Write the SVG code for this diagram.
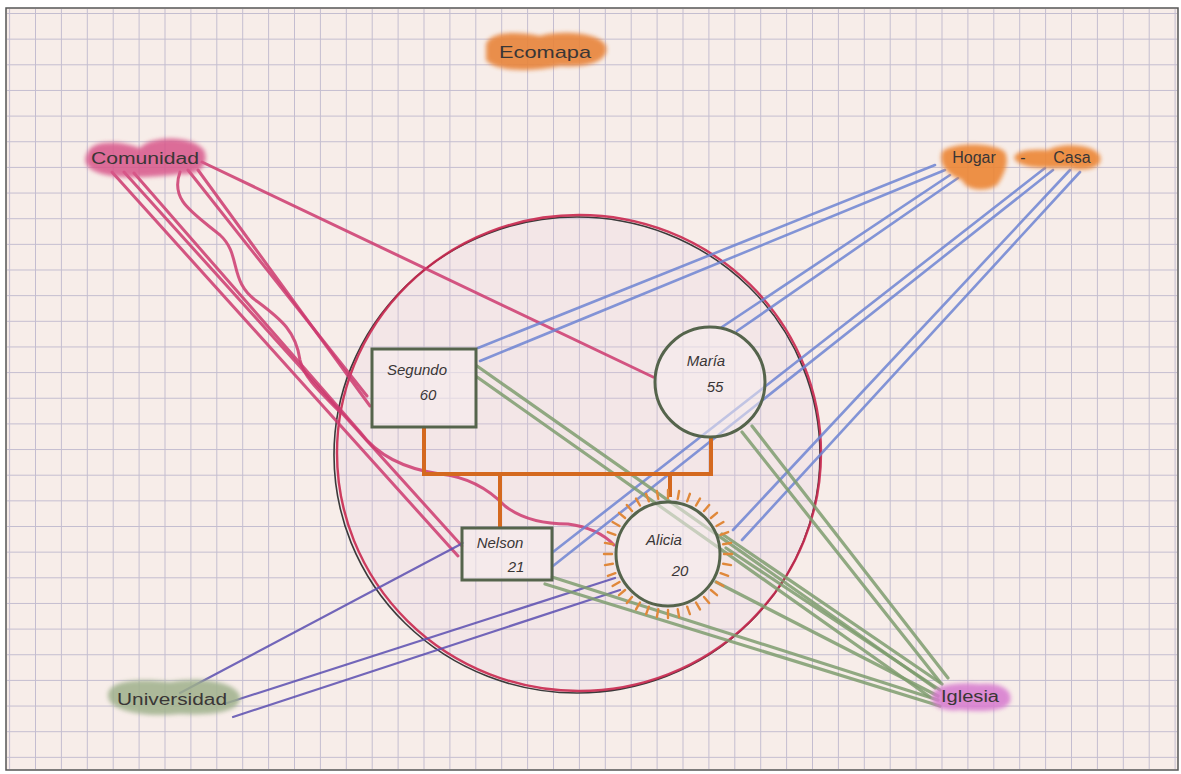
<svg xmlns="http://www.w3.org/2000/svg" width="1181" height="774" viewBox="0 0 1181 774">
  <defs>
    <pattern id="grid" patternUnits="userSpaceOnUse" x="35" y="13" width="25.9" height="25.65">
      <path d="M0.5 0V25.65M0 0.5H25.9" fill="none" stroke="#bbb5cc" stroke-width="1" stroke-opacity="0.85"/>
    </pattern>
    <filter id="smudge" x="-20%" y="-40%" width="140%" height="180%">
      <feGaussianBlur stdDeviation="2.2"/>
    </filter>
    <line id="tick" x1="0" y1="-56" x2="0" y2="-64"/>
  </defs>
  <style>
    .lbl { font-family: "Liberation Sans", "DejaVu Sans", sans-serif; fill: #3a3636; }
    .hand { font-style: italic; }
    .pk { fill: none; stroke: #cc3a6e; stroke-width: 3; stroke-opacity: 0.85; stroke-linecap: round; }
    .bl { fill: none; stroke: #6d84d2; stroke-width: 2.6; stroke-opacity: 0.85; stroke-linecap: round; }
    .pu { fill: none; stroke: #5b4db0; stroke-width: 2.2; stroke-opacity: 0.85; stroke-linecap: round; }
    .gr { fill: none; stroke: #7e9c6e; stroke-width: 3.2; stroke-opacity: 0.85; stroke-linecap: round; }
    .fam { fill: none; stroke: #d4691f; stroke-width: 4; stroke-linejoin: miter; }
    .person { fill: #f6ecee; fill-opacity: 0.55; stroke: #55644c; stroke-width: 3; }
    .ticks { stroke: #e0883a; stroke-width: 2.4; stroke-linecap: round; }
  </style>

  <!-- sheet of squared paper -->
  <rect x="0" y="0" width="1181" height="774" fill="#ffffff"/>
  <rect x="6" y="8" width="1172" height="762" fill="#f7ede9" stroke="#555" stroke-width="1.5"/>
  <rect x="7" y="9" width="1170" height="760" fill="url(#grid)"/>

  <!-- household boundary -->
  <g id="household">
    <ellipse cx="577" cy="455" rx="243" ry="238" fill="#e6c8dc" fill-opacity="0.18" stroke="#3a3a3a" stroke-width="1.6"/>
    <ellipse cx="579" cy="453" rx="242" ry="238" fill="none" stroke="#c9284f" stroke-width="2.4" stroke-opacity="0.9"/>
  </g>

  <!-- connectors -->
  <g id="connectors">
    <!-- Comunidad -->
    <path class="pk" d="M202 162 L653 377"/>
    <path class="pk" d="M112 172 L458 556"/>
    <path class="pk" d="M124 172 L462 546"/>
    <path class="pk" d="M134 173 L360 432 Q385 466 440 474 Q478 478 505 506 Q528 524 568 524 Q598 528 614 545"/>
    <path class="pk" d="M188 170 L367 396"/>
    <path class="pk" d="M198 170 L370 406"/>
    <path class="pk" stroke-width="2.4" d="M180 172 C170 200 192 212 220 235 C242 255 228 282 258 302 C282 320 296 332 300 360 C304 378 320 392 340 412"/>

    <!-- Hogar - Casa -->
    <path class="bl" d="M935 165 L478 348"/>
    <path class="bl" d="M945 170 L480 361"/>
    <path class="bl" d="M950 175 L722 327"/>
    <path class="bl" d="M958 178 L737 331"/>
    <path class="bl" d="M1045 168 L553 552"/>
    <path class="bl" d="M1053 170 L553 566"/>
    <path class="bl" d="M1070 170 L733 530"/>
    <path class="bl" d="M1080 172 L742 540"/>

    <!-- Universidad -->
    <path class="pu" d="M180 693 L463 543"/>
    <path class="pu" d="M227 703 L615 578"/>
    <path class="pu" d="M233 717 L620 590"/>

    <!-- Iglesia -->
    <path class="gr" d="M477 366 L935 688"/>
    <path class="gr" d="M477 377 L930 697"/>
    <path class="gr" d="M742 432 L940 682"/>
    <path class="gr" d="M752 426 L948 678"/>
    <path class="gr" d="M722 534 L942 684"/>
    <path class="gr" d="M726 548 L940 690"/>
    <path class="gr" d="M716 582 L938 696"/>
    <path class="gr" d="M552 577 L938 700"/>
    <path class="gr" d="M545 584 L940 706"/>

    <!-- family lines -->
    <path class="fam" d="M424 428 V474 H711 V437"/>
    <path class="fam" d="M500 474 V528"/>
    <path class="fam" d="M670 474 V497"/>
  </g>

  <!-- title -->
  <g id="title">
    <path d="M486 44 C492 30 520 32 540 36 C560 30 600 32 606 46 C610 60 590 68 560 66 C530 72 496 72 486 60 Z" fill="#e8843a" filter="url(#smudge)" opacity="0.9"/>
    <text class="lbl" x="545" y="58" font-size="17" text-anchor="middle" textLength="92" lengthAdjust="spacingAndGlyphs">Ecomapa</text>
  </g>

  <!-- external systems -->
  <g id="comunidad">
    <path d="M88 152 C92 140 120 140 140 148 C150 136 190 134 204 150 C210 164 200 176 180 174 C150 178 110 180 92 170 C84 164 84 158 88 152 Z" fill="#d8578a" filter="url(#smudge)" opacity="0.85"/>
    <text class="lbl" x="145" y="164" font-size="16" text-anchor="middle" textLength="108" lengthAdjust="spacingAndGlyphs">Comunidad</text>
  </g>

  <g id="hogar-casa">
    <path d="M942 152 C950 142 995 142 1005 152 C1010 162 1004 174 998 184 C990 192 966 192 962 180 C950 176 938 166 942 152 Z" fill="#ec8636" filter="url(#smudge)" opacity="0.9"/>
    <path d="M1014 158 C1016 148 1040 150 1048 150 C1062 142 1095 144 1100 156 C1104 168 1085 172 1070 168 C1050 168 1020 170 1014 158 Z" fill="#ec8636" filter="url(#smudge)" opacity="0.9"/>
    <text class="lbl" y="163" font-size="16" text-anchor="middle"><tspan x="974">Hogar</tspan><tspan x="1023">-</tspan><tspan x="1072">Casa</tspan></text>
  </g>

  <g id="universidad">
    <path d="M108 694 C110 680 140 678 170 682 C200 676 236 682 240 696 C242 710 220 716 180 714 C140 718 106 710 108 694 Z" fill="#9fb18c" filter="url(#smudge)" opacity="0.85"/>
    <text class="lbl" x="172" y="705" font-size="16" text-anchor="middle" textLength="110" lengthAdjust="spacingAndGlyphs">Universidad</text>
  </g>

  <g id="iglesia">
    <path d="M932 696 C934 684 960 682 980 684 C1000 682 1014 690 1010 702 C1006 712 980 712 960 710 C942 712 930 706 932 696 Z" fill="#d779cf" filter="url(#smudge)" opacity="0.85"/>
    <text class="lbl" x="970" y="702" font-size="16" text-anchor="middle" textLength="58" lengthAdjust="spacingAndGlyphs">Iglesia</text>
  </g>

  <!-- household members -->
  <g id="segundo">
    <rect class="person" x="372" y="349" width="104" height="78"/>
    <text class="lbl hand" x="417" y="375" font-size="15" text-anchor="middle">Segundo</text>
    <text class="lbl hand" x="428" y="400" font-size="15" text-anchor="middle">60</text>
  </g>

  <g id="maria">
    <circle class="person" cx="710" cy="382" r="55"/>
    <text class="lbl hand" x="706" y="366" font-size="15" text-anchor="middle">María</text>
    <text class="lbl hand" x="715" y="392" font-size="15" text-anchor="middle">55</text>
  </g>

  <g id="nelson">
    <rect class="person" x="462" y="528" width="90" height="52"/>
    <text class="lbl hand" x="500" y="548" font-size="15" text-anchor="middle">Nelson</text>
    <text class="lbl hand" x="516" y="572" font-size="15" text-anchor="middle">21</text>
  </g>

  <g id="alicia">
    <g class="ticks" transform="translate(668 554)">
      <use href="#tick" transform="rotate(0)"/><use href="#tick" transform="rotate(10)"/><use href="#tick" transform="rotate(20)"/>
      <use href="#tick" transform="rotate(30)"/><use href="#tick" transform="rotate(40)"/><use href="#tick" transform="rotate(50)"/>
      <use href="#tick" transform="rotate(60)"/><use href="#tick" transform="rotate(70)"/><use href="#tick" transform="rotate(80)"/>
      <use href="#tick" transform="rotate(90)"/><use href="#tick" transform="rotate(100)"/><use href="#tick" transform="rotate(110)"/>
      <use href="#tick" transform="rotate(120)"/><use href="#tick" transform="rotate(130)"/><use href="#tick" transform="rotate(140)"/>
      <use href="#tick" transform="rotate(150)"/><use href="#tick" transform="rotate(160)"/><use href="#tick" transform="rotate(170)"/>
      <use href="#tick" transform="rotate(180)"/><use href="#tick" transform="rotate(190)"/><use href="#tick" transform="rotate(200)"/>
      <use href="#tick" transform="rotate(210)"/><use href="#tick" transform="rotate(220)"/><use href="#tick" transform="rotate(230)"/>
      <use href="#tick" transform="rotate(240)"/><use href="#tick" transform="rotate(250)"/><use href="#tick" transform="rotate(260)"/>
      <use href="#tick" transform="rotate(270)"/><use href="#tick" transform="rotate(280)"/><use href="#tick" transform="rotate(290)"/>
      <use href="#tick" transform="rotate(300)"/><use href="#tick" transform="rotate(310)"/><use href="#tick" transform="rotate(320)"/>
      <use href="#tick" transform="rotate(330)"/><use href="#tick" transform="rotate(340)"/><use href="#tick" transform="rotate(350)"/>
    </g>
    <circle class="person" cx="668" cy="554" r="52"/>
    <text class="lbl hand" x="664" y="545" font-size="15" text-anchor="middle">Alicia</text>
    <text class="lbl hand" x="680" y="576" font-size="15" text-anchor="middle">20</text>
  </g>
</svg>
